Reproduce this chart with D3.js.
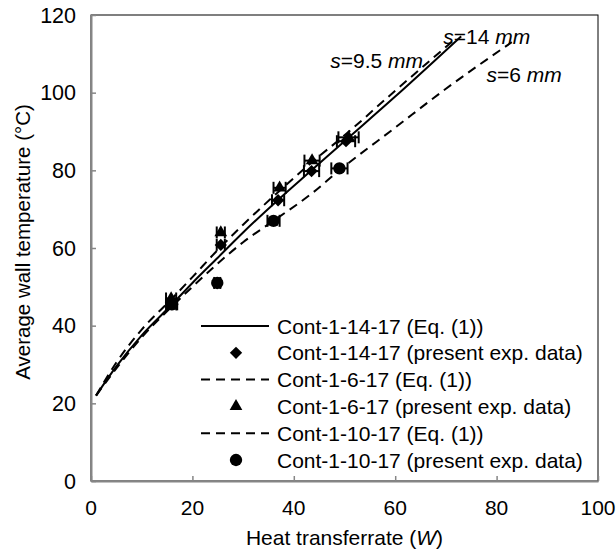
<!DOCTYPE html>
<html>
<head>
<meta charset="utf-8">
<script src="https://cdn.jsdelivr.net/npm/d3@7"></script>
<style>
  html, body { margin: 0; padding: 0; background: #fff; overflow: hidden; }
  svg { display: block; }
</style>
</head>
<body>
<svg id="chart" width="616" height="552" font-family="'Liberation Sans', Arial, sans-serif" font-size="21"></svg>
<script>
// equation (1) curves
var eqS14Q = [1, 5, 10, 16, 20, 25, 30, 37, 43.5, 50, 60, 73],
  eqS14T = [22, 29.5, 37.5, 45.5, 51, 57.5, 64, 72.5, 80, 87.5, 99, 114.5],
  eqS6Q = [1, 5, 10, 16, 20, 25, 30, 37, 43.5, 50, 60, 72],
  eqS6T = [22, 30.5, 39, 47, 52.5, 59.5, 66, 74.5, 82, 89, 100.5, 114],
  eqS10Q = [1, 5, 10, 16, 20, 25, 30, 36, 43.5, 49, 60, 70, 83],
  eqS10T = [22, 29, 37, 45, 50, 56, 61.5, 67, 74, 80, 91, 101, 113];

// experimental points with horizontal error
var expS14Q = [15.8, 25.6, 36.9, 43.5, 50.3],
  expS14T = [45.5, 60.8, 72.3, 79.8, 87.5],
  expS14Err = [1.0, 0.8, 1.2, 1.5, 1.8],
  expS6Q = [15.8, 25.6, 37.2, 43.6, 50.8],
  expS6T = [47, 64, 75.5, 82.5, 88.5],
  expS6Err = [1.0, 0.8, 1.2, 1.5, 2.0],
  expS10Q = [16, 24.9, 36, 49],
  expS10T = [45.5, 51, 67, 80.5],
  expS10Err = [1.0, 0.6, 1.2, 1.6];

var xTicks = [0, 20, 40, 60, 80, 100],
  yTicks = [0, 20, 40, 60, 80, 100, 120];

var legendNames = [
  'Cont-1-14-17 (Eq. (1))',
  'Cont-1-14-17 (present exp. data)',
  'Cont-1-6-17 (Eq. (1))',
  'Cont-1-6-17 (present exp. data)',
  'Cont-1-10-17 (Eq. (1))',
  'Cont-1-10-17 (present exp. data)'
];

var svg = d3.select('#chart'),
  margin = { top: 15, right: 18, bottom: 71, left: 91 },
  innerWidth = 616 - margin.left - margin.right,
  innerHeight = 552 - margin.top - margin.bottom,
  dash = '9,6';

var zip = (qs, ts) => qs.map((q, i) => ({ q: q, t: ts[i] }));

// writes mixed upright / italic text as separate text nodes, placed side by side
function richText(x, y, parts, anchor) {
  var grp = svg.append('g');
  var nodes = parts.map((p) =>
    grp.append('text').attr('y', y).attr('font-style', p.i ? 'italic' : null).text(p.s));
  var widths = nodes.map((n) => n.node().getComputedTextLength());
  var cx = anchor === 'middle' ? x - d3.sum(widths) / 2 : x;
  nodes.forEach(function (n, k) {
    n.attr('x', cx);
    cx += widths[k];
  });
}

// scales map straight to page pixels
var xScale = d3.scaleLinear().domain([0, 100]).range([margin.left, margin.left + innerWidth]),
  yScale = d3.scaleLinear().domain([0, 120]).range([margin.top + innerHeight, margin.top]);

// plot frame (top/right)
svg.append('rect')
  .attr('x', margin.left)
  .attr('y', margin.top)
  .attr('width', innerWidth)
  .attr('height', innerHeight)
  .attr('fill', 'none')
  .attr('stroke', '#000')
  .attr('stroke-width', 1);

var xAxis = d3.axisBottom(xScale).tickValues(xTicks).tickSizeInner(-5).tickSizeOuter(0).tickFormat('');
var yAxis = d3.axisLeft(yScale).tickValues(yTicks).tickSizeInner(-5).tickSizeOuter(0).tickFormat('');

var gx = svg.append('g').attr('transform', 'translate(0,' + (margin.top + innerHeight) + ')').call(xAxis);
var gy = svg.append('g').attr('transform', 'translate(' + margin.left + ',0)').call(yAxis);

[gx, gy].forEach(function (ax) {
  ax.select('.domain').attr('stroke', '#868686').attr('stroke-width', 2);
  ax.selectAll('.tick line').attr('stroke', '#868686').attr('stroke-width', 1.5);
  ax.selectAll('.tick text').remove();
});

// tick labels, placed from the same scales
svg.selectAll('text.xtick')
  .data(xTicks)
  .enter()
  .append('text')
  .attr('class', 'xtick')
  .attr('x', (d) => xScale(d))
  .attr('y', margin.top + innerHeight + 34)
  .attr('text-anchor', 'middle')
  .text((d) => d);

svg.selectAll('text.ytick')
  .data(yTicks)
  .enter()
  .append('text')
  .attr('class', 'ytick')
  .attr('x', margin.left - 15)
  .attr('y', (d) => yScale(d) + 7.5)
  .attr('text-anchor', 'end')
  .style('font-size', '21.5px')
  .text((d) => d);

// axis titles
richText(margin.left + innerWidth / 2, 545, [
  { s: 'Heat transferrate (' },
  { s: 'W', i: true },
  { s: ')' }
], 'middle');

var yTitleX = 30,
  yTitleY = 242;
svg.append('text')
  .attr('x', yTitleX)
  .attr('y', yTitleY)
  .attr('transform', 'rotate(-90,' + yTitleX + ',' + yTitleY + ')')
  .attr('text-anchor', 'middle')
  .style('font-size', '20.5px')
  .text('Average wall temperature (°C)');

// equation curves
var line = d3.line()
  .x((d) => xScale(d.q))
  .y((d) => yScale(d.t))
  .curve(d3.curveMonotoneX);

var curves = [
  { pts: zip(eqS14Q, eqS14T), dash: null },
  { pts: zip(eqS6Q, eqS6T), dash: dash },
  { pts: zip(eqS10Q, eqS10T), dash: dash }
];

svg.selectAll('path.curve')
  .data(curves)
  .enter()
  .append('path')
  .attr('class', 'curve')
  .attr('d', (d) => line(d.pts))
  .attr('fill', 'none')
  .attr('stroke', '#000')
  .attr('stroke-width', 2)
  .attr('stroke-dasharray', (d) => d.dash);

// experimental data
var markers = {
  diamond: d3.symbol().type(d3.symbolSquare).size(76),
  triangle: d3.symbol().type(d3.symbolTriangle).size(70),
  circle: d3.symbol().type(d3.symbolCircle).size(120)
};

var expSets = [
  { pts: zip(expS14Q, expS14T), err: expS14Err, shape: 'diamond' },
  { pts: zip(expS6Q, expS6T), err: expS6Err, shape: 'triangle' },
  { pts: zip(expS10Q, expS10T), err: expS10Err, shape: 'circle' }
];

expSets.forEach(function (set) {
  var sg = svg.append('g');
  var eb = sg.selectAll('g.err')
    .data(set.pts)
    .enter()
    .append('g')
    .attr('stroke', '#000')
    .attr('stroke-width', 2);
  eb.append('line')
    .attr('x1', (d, i) => xScale(d.q - set.err[i]))
    .attr('x2', (d, i) => xScale(d.q + set.err[i]))
    .attr('y1', (d) => yScale(d.t))
    .attr('y2', (d) => yScale(d.t));
  [-1, 1].forEach(function (s) {
    eb.append('line')
      .attr('x1', (d, i) => xScale(d.q + s * set.err[i]))
      .attr('x2', (d, i) => xScale(d.q + s * set.err[i]))
      .attr('y1', (d) => yScale(d.t) - 6)
      .attr('y2', (d) => yScale(d.t) + 6);
  });
  sg.selectAll('path.mk')
    .data(set.pts)
    .enter()
    .append('path')
    .attr('class', 'mk')
    .attr('d', markers[set.shape])
    .attr('fill', '#000')
    .attr('transform', (d) =>
      'translate(' + xScale(d.q) + ',' + yScale(d.t) + ')' + (set.shape === 'diamond' ? ' rotate(45)' : ''));
});

// curve labels
var curveLabels = [
  { q: 69.5, t: 112.5, num: '14' },
  { q: 47.2, t: 106.3, num: '9.5' },
  { q: 78, t: 102.8, num: '6' }
];
curveLabels.forEach(function (c) {
  richText(xScale(c.q), yScale(c.t), [
    { s: 's', i: true },
    { s: '=' + c.num + '\u00a0' },
    { s: 'mm', i: true }
  ], 'start');
});

// legend
var legendX = 200,
  legendY = 326,
  rowH = 26.8;
legendNames.forEach(function (name, i) {
  var cy = legendY + i * rowH;
  if (i % 2 === 0) {
    svg.append('line')
      .attr('x1', legendX + 1).attr('x2', legendX + 69)
      .attr('y1', cy).attr('y2', cy)
      .attr('stroke', '#000')
      .attr('stroke-width', 2)
      .attr('stroke-dasharray', i === 0 ? null : dash);
  } else {
    var shape = ['diamond', 'triangle', 'circle'][(i - 1) / 2];
    svg.append('path')
      .attr('d', markers[shape])
      .attr('fill', '#000')
      .attr('transform', 'translate(' + (legendX + 36) + ',' + cy + ')' + (shape === 'diamond' ? ' rotate(45)' : ''));
  }
  svg.append('text')
    .attr('x', legendX + 77)
    .attr('y', cy + 7.5)
    .text(name);
});
</script>
</body>
</html>
